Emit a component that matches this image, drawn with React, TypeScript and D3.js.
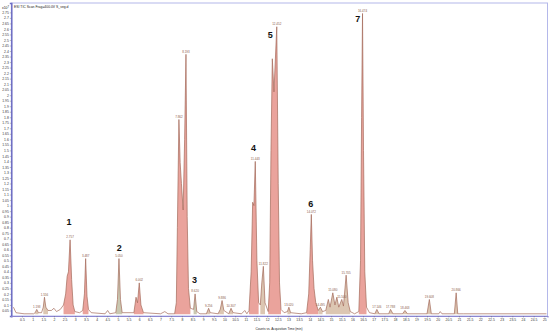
import { useEffect, useRef } from "react";
import * as d3 from "d3";

// chromatogram trace (time in min, counts in x10^7)
const traceTimes = [
  0.1, 0.22, 0.6, 1.05, 1.12, 1.193, 1.27, 1.42, 1.5, 1.556, 1.62, 1.72, 1.88, 2.0, 2.12, 2.3, 2.45, 2.55, 2.62, 2.68,
  2.757, 2.83, 2.9, 2.98, 3.2, 3.35, 3.43, 3.487, 3.55, 3.62, 3.75, 4.4, 4.52, 4.62, 4.9, 4.98, 5.05, 5.12, 5.2, 5.75,
  5.85, 5.92, 6.002, 6.08, 6.2, 7.0, 7.2, 7.35, 7.66, 7.74, 7.79, 7.862, 7.92, 7.98, 8.06, 8.13, 8.193, 8.25, 8.31, 8.4,
  8.55, 8.62, 8.7, 8.85, 9.15, 9.256, 9.33, 9.7, 9.8, 9.886, 9.97, 10.2, 10.307, 10.4, 10.8, 10.95, 11.05, 11.15, 11.25, 11.32,
  11.38, 11.443, 11.52, 11.6, 11.68, 11.75, 11.822, 11.9, 12.05, 12.12, 12.18, 12.243, 12.32, 12.452, 12.52, 12.58, 12.65, 12.8, 12.95, 13.02,
  13.1, 13.6, 13.85, 13.95, 14.02, 14.072, 14.13, 14.2, 14.28, 14.4, 14.495, 14.6, 14.75, 14.87, 14.95, 15.08, 15.18, 15.27, 15.36, 15.5,
  15.58, 15.705, 15.8, 15.9, 16.1, 16.3, 16.38, 16.43, 16.474, 16.52, 16.58, 16.66, 16.8, 17.05, 17.146, 17.25, 17.7, 17.788, 17.9, 18.35,
  18.463, 18.58, 19.5, 19.608, 19.7, 20.05, 20.12, 20.2, 20.78, 20.866, 20.94, 21.2, 25.1,
];
const traceCounts = [
  0.08, 0.03, 0.02, 0.02, 0.03, 0.06, 0.03, 0.03, 0.08, 0.17, 0.08, 0.05, 0.05, 0.07, 0.04, 0.06, 0.1, 0.2, 0.36, 0.4,
  0.69, 0.33, 0.1, 0.04, 0.03, 0.05, 0.2, 0.52, 0.18, 0.06, 0.03, 0.02, 0.05, 0.02, 0.03, 0.15, 0.52, 0.15, 0.03, 0.03,
  0.17, 0.12, 0.3, 0.1, 0.03, 0.02, 0.04, 0.02, 0.02, 0.12, 0.8, 1.78, 1.39, 1.2, 0.96, 1.6, 2.37, 0.9, 0.25, 0.07,
  0.06, 0.2, 0.04, 0.02, 0.02, 0.07, 0.03, 0.02, 0.06, 0.14, 0.05, 0.02, 0.07, 0.03, 0.02, 0.05, 0.02, 0.05, 0.4, 1.03,
  1.0, 1.4, 0.5, 0.12, 0.1, 0.3, 0.45, 0.12, 0.04, 0.3, 1.5, 2.33, 2.03, 2.62, 1.2, 0.3, 0.06, 0.03, 0.04, 0.08,
  0.03, 0.02, 0.03, 0.2, 0.6, 0.92, 0.5, 0.25, 0.12, 0.05, 0.08, 0.04, 0.05, 0.15, 0.08, 0.21, 0.1, 0.17, 0.08, 0.15,
  0.09, 0.37, 0.12, 0.04, 0.02, 0.04, 0.5, 1.8, 2.74, 1.5, 0.4, 0.08, 0.03, 0.02, 0.06, 0.02, 0.02, 0.06, 0.02, 0.02,
  0.05, 0.02, 0.02, 0.15, 0.02, 0.02, 0.04, 0.02, 0.02, 0.21, 0.02, 0.02, 0.02,
];

// retention time labels printed above the peaks
const peakLabels = [
  "1.193", "1.556", "2.757", "3.487", "5.050", "6.002", "7.862", "8.193", "8.620", "9.256", "9.886", "10.307", "11.443",
  "11.822", "12.452", "13.020", "14.072", "14.495", "15.080", "15.500", "15.705", "16.474", "17.146", "17.788", "18.463",
  "19.608", "20.866",
];

// integrated peak windows: start, end, kind
const peakStarts = [1.1, 1.45, 2.42, 3.33, 4.9, 5.75, 7.66, 8.55, 9.15, 9.7, 10.2, 11.15, 11.68, 12.05, 12.95, 13.85, 14.4, 14.75, 16.3, 17.05, 17.7, 18.35, 19.5, 20.78];
const peakEnds = [1.27, 1.72, 2.98, 3.62, 5.2, 6.2, 8.4, 8.7, 9.33, 9.97, 10.4, 11.6, 11.9, 12.65, 13.1, 14.4, 14.6, 15.9, 16.66, 17.25, 17.9, 18.58, 19.7, 20.94];
const peakKinds = ["minor", "minor", "main", "main", "alt", "main", "main", "alt", "minor", "minor", "minor", "main", "minor", "main", "minor", "main", "minor", "minor", "main", "minor", "minor", "minor", "minor", "minor"];

// compound numbers written on the chromatogram
const compoundNumbers = ["1", "2", "3", "4", "5", "6", "7"];
const compoundTimes = [2.71, 5.06, 8.59, 11.36, 12.15, 14.05, 16.25];
const compoundLevels = [0.82, 0.59, 0.3, 1.49, 2.52, 0.99, 2.66];

const yTicks = d3.range(1, 56).map(i => i * 0.05);
const xTicks = d3.range(1, 51).map(i => i * 0.5);

const title = "ESI TIC Scan Frag=400.0V S_veg.d";
const xTitle = "Counts vs. Acquisition Time (min)";

const width = 550;
const height = 331;

export default function App() {
  const svgRef = useRef<SVGSVGElement>(null);

  useEffect(() => {
    const svg = d3.select(svgRef.current);
    svg.selectAll("*").remove();

    const font = "'Liberation Sans', Arial, sans-serif";
    const x = d3.scaleLinear().domain([0, 25.15]).range([11.3, 547.5]);
    const y = d3.scaleLinear().domain([0, 2.835]).range([316, 3]);

    const points: [number, number][] = traceTimes.map((t, i) => [t, traceCounts[i]]);
    const fills: Record<string, string> = { main: "#eaa39c", minor: "#dcc6b2", alt: "#c9c7b0" };

    svg.append("rect").attr("width", width).attr("height", height).attr("fill", "#fff");

    // plot frame
    svg.append("rect")
      .attr("x", x(0)).attr("y", y.range()[1])
      .attr("width", x.range()[1] - x(0)).attr("height", y(0) - y.range()[1])
      .attr("fill", "#fff").attr("stroke", "#b4b8ea").attr("stroke-width", 1);

    // shaded peaks
    const area = d3.area<[number, number]>()
      .x(d => x(d[0]))
      .y0(y(0.015))
      .y1(d => y(d[1]));
    peakStarts.forEach((s, i) => {
      const seg = points.filter(p => p[0] >= s - 1e-9 && p[0] <= peakEnds[i] + 1e-9);
      svg.append("path")
        .attr("d", area(seg))
        .attr("fill", fills[peakKinds[i]])
        .attr("stroke", "none");
    });

    // trace
    const line = d3.line<[number, number]>().x(d => x(d[0])).y(d => y(d[1]));
    svg.append("path")
      .attr("d", line(points))
      .attr("fill", "none")
      .attr("stroke", "#a46a5a")
      .attr("stroke-width", 0.7);

    // retention time labels
    const apex = new Map(points.map(p => [p[0].toFixed(3), p[1]]));
    svg.append("g")
      .selectAll("text")
      .data(peakLabels)
      .enter()
      .append("text")
      .attr("x", d => x(+d))
      .attr("y", d => y(apex.get((+d).toFixed(3)) ?? 0) - 1.5)
      .attr("text-anchor", "middle")
      .attr("font-family", font)
      .attr("font-size", 3)
      .attr("fill", "#8a5a48")
      .text(d => d);

    // compound numbers
    svg.append("g")
      .selectAll("text")
      .data(compoundNumbers)
      .enter()
      .append("text")
      .attr("x", (d, i) => x(compoundTimes[i]))
      .attr("y", (d, i) => y(compoundLevels[i]))
      .attr("text-anchor", "middle")
      .attr("font-family", font)
      .attr("font-weight", "bold")
      .attr("font-size", 9)
      .attr("fill", "#111")
      .text(d => d);

    // y axis
    const yAxis = svg.append("g").attr("transform", `translate(${x(0)},0)`)
      .call(d3.axisLeft(y).tickValues(yTicks).tickSize(1.5).tickPadding(1).tickFormat(d3.format("~g") as any));
    yAxis.select(".domain").attr("stroke", "#6c6cc4").attr("stroke-width", 1.5);
    yAxis.selectAll(".tick line").attr("stroke", "#666").attr("stroke-width", 0.4);
    yAxis.selectAll("text").attr("font-family", font).attr("font-size", 3.4).attr("fill", "#333");

    // x axis
    const xAxis = svg.append("g").attr("transform", `translate(0,${y(0)})`)
      .call(d3.axisBottom(x).tickValues(xTicks).tickSize(1.5).tickPadding(1.5).tickFormat(d3.format("~g") as any));
    xAxis.select(".domain").attr("stroke", "#8c86d0").attr("stroke-width", 1.2);
    xAxis.selectAll(".tick line").attr("stroke", "#666").attr("stroke-width", 0.4);
    xAxis.selectAll("text").attr("font-family", font).attr("font-size", 3.4).attr("fill", "#333");

    // titles
    svg.append("text")
      .attr("x", 14).attr("y", 8)
      .attr("font-family", font).attr("font-size", 3.4).attr("fill", "#222")
      .text(title);
    const unit = svg.append("text")
      .attr("x", 2).attr("y", 9)
      .attr("font-family", font).attr("font-size", 3.4).attr("fill", "#222");
    unit.append("tspan").text("x10");
    unit.append("tspan").attr("dy", -1.2).attr("font-size", 2.6).text("7");
    svg.append("text")
      .attr("x", 279).attr("y", 329.5)
      .attr("text-anchor", "middle")
      .attr("font-family", font).attr("font-size", 3.2).attr("fill", "#222")
      .text(xTitle);
  }, []);

  return (
    <svg
      ref={svgRef}
      width={width}
      height={height}
      style={{ position: "absolute", left: 0, top: 0, display: "block" }}
    />
  );
}
